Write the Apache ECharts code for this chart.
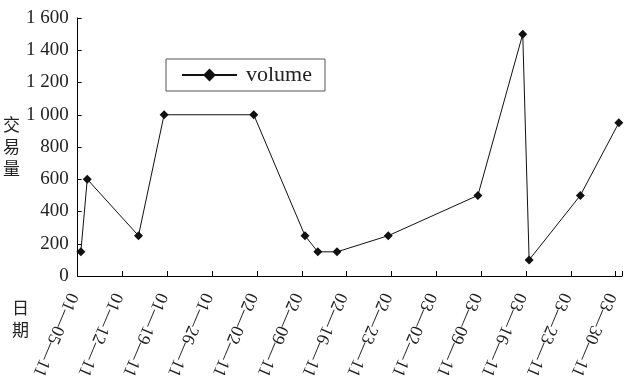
<!DOCTYPE html>
<html>
<head>
<meta charset="utf-8">
<script src="https://cdn.jsdelivr.net/npm/echarts@6/dist/echarts.min.js"></script>
<style>
html,body{margin:0;padding:0;background:#fff;}
#chart{width:630px;height:382px;}
</style>
</head>
<body>
<div id="chart"></div>
<script>
// Data
const dates = ['2011-01-05','2011-01-06','2011-01-14','2011-01-18','2011-02-01','2011-02-09','2011-02-11','2011-02-14','2011-02-22','2011-03-08','2011-03-15','2011-03-16','2011-03-24','2011-03-30'];
const volume = [150, 600, 250, 1000, 1000, 250, 150, 150, 250, 500, 1500, 100, 500, 950];
const axisStart = '2011-01-05';
const axisEnd = '2011-03-30';
const labelStep = 7; // weekly tick labels
const seriesName = 'volume';
const yName = '交易量';
const xName = '日期';

// build daily categories
const days = [];
let d = new Date(axisStart + 'T00:00:00Z');
const endD = new Date(axisEnd + 'T00:00:00Z');
while (d <= endD) {
  days.push(d.toISOString().slice(0, 10));
  d = new Date(d.getTime() + 86400000);
}
const lookup = {};
dates.forEach((k, i) => { lookup[k] = volume[i]; });
const seriesData = days.map(k => (k in lookup ? lookup[k] : null));

function fmtDate(s) {
  const p = s.split('-');
  return p[1] + '—' + p[2] + '—' + p[0].slice(2);
}
function fmtNum(v) {
  if (v >= 1000) {
    const t = Math.floor(v / 1000);
    const r = String(v % 1000).padStart(3, '0');
    return t + ' ' + r;
  }
  return String(v);
}

const serif = "'Liberation Serif', 'Times New Roman', serif";
const cjk = "'Noto Sans CJK SC', sans-serif";

const chart = echarts.init(document.getElementById('chart'), null, {renderer: 'canvas'});
chart.setOption({
  animation: false,
  backgroundColor: '#ffffff',
  grid: {left: 73, right: 8, top: 18, bottom: 106, containLabel: false},
  legend: {
    left: 166, top: 59,
    padding: [5, 13, 5, 15],
    borderColor: '#555', borderWidth: 1,
    itemWidth: 55, itemHeight: 16,
    textStyle: {fontFamily: serif, fontSize: 22, color: '#222', padding: [0, 0, 0, 4]},
    data: [seriesName]
  },
  graphic: [{
    type: 'text', left: 12, top: 297,
    style: {text: xName.split('').join('\n'), font: "17px 'Noto Sans CJK SC', sans-serif",
      lineHeight: 22, fill: '#222'}
  }],
  xAxis: {
    type: 'category',
    data: days,
    boundaryGap: true,
    axisLine: {lineStyle: {color: '#000', width: 1}},
    axisTick: {show: true, inside: true, length: 5, alignWithLabel: false,
      interval: (i) => i % labelStep === 0, lineStyle: {color: '#000'}},
    axisLabel: {
      interval: (i) => i % labelStep === 0,
      formatter: (v) => fmtDate(v),
      rotate: -113, align: 'left', verticalAlign: 'top', margin: 21,
      fontFamily: serif, fontSize: 18, color: '#222'
    },
    splitLine: {show: false}
  },
  yAxis: {
    type: 'value',
    min: 0, max: 1600, interval: 200,
    axisLine: {show: true, lineStyle: {color: '#000', width: 1}},
    axisTick: {show: true, inside: true, length: 4, lineStyle: {color: '#000'}},
    axisLabel: {formatter: fmtNum, fontFamily: serif, fontSize: 19, color: '#222', margin: 9},
    splitLine: {show: false},
    name: yName.split('').join('\n'),
    nameLocation: 'middle',
    nameRotate: 0,
    nameGap: 55,
    nameTextStyle: {fontFamily: cjk, fontSize: 17, lineHeight: 22, color: '#222'}
  },
  series: [{
    name: seriesName,
    type: 'line',
    data: seriesData,
    connectNulls: true,
    symbol: 'diamond',
    symbolSize: 9,
    showAllSymbol: true,
    lineStyle: {color: '#111', width: 1},
    itemStyle: {color: '#111'}
  }]
});
</script>
</body>
</html>
